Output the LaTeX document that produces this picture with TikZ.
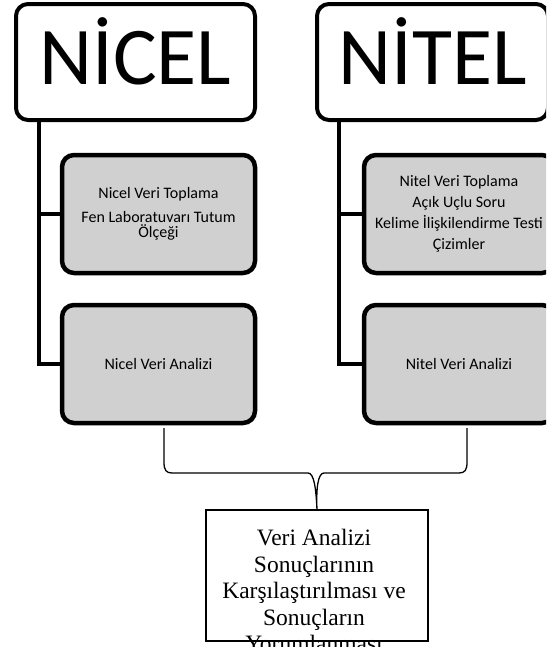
\documentclass[tikz,border=0pt]{standalone}
\usepackage{fontspec}
\setmainfont{Carlito}
\newfontfamily\resultfont{Liberation Serif}
\definecolor{boxgray}{gray}{0.816}

\begin{document}
\begin{tikzpicture}[x=1pt,y=-1pt,
  headbox/.style={draw, line width=4pt, rounded corners=12pt, fill=white,
    inner sep=0pt, outer sep=0pt, font=\fontsize{82}{82}\selectfont,
    text height=52pt, text depth=8pt},
  stepbox/.style={draw, line width=4.5pt, rounded corners=12pt, fill=boxgray,
    inner sep=0pt, outer sep=0pt, align=center, minimum height=118pt},
  trunk/.style={line width=4pt},
  brace/.style={line width=1.3pt},
  resultbox/.style={draw, line width=1.5pt, fill=white, inner sep=0pt, outer sep=0pt},
]
\clip (0,0) rectangle (546,653);

% column headings
\node[headbox, minimum width=239pt, minimum height=116pt] (nicel) at (135.5,62) {NİCEL};
\node[headbox, minimum width=231pt, minimum height=116pt] (nitel) at (432.5,62) {NİTEL};

% quantitative column
\node[stepbox, minimum width=193pt, font=\fontsize{16}{15.2}\selectfont] (ncol) at (158.5,214)
  {Nicel Veri Toplama\\[9pt]Fen Laboratuvarı Tutum\\Ölçeği};
\node[stepbox, minimum width=193pt, font=\fontsize{16}{16}\selectfont] (nana) at (158.5,364)
  {Nicel Veri Analizi};

% qualitative column
\node[stepbox, minimum width=190pt, font=\fontsize{16}{21}\selectfont] (tcol) at (459,214)
  {Nitel Veri Toplama\\Açık Uçlu Soru\\Kelime İlişkilendirme Testi\\Çizimler};
\node[stepbox, minimum width=190pt, font=\fontsize{16}{16}\selectfont] (tana) at (459,364)
  {Nitel Veri Analizi};

% trunks from the headings to their steps
\draw[trunk] ([xshift=23pt]nicel.south west) |- (ncol.west);
\draw[trunk] ([xshift=23pt]nicel.south west) |- (nana.west);
\draw[trunk] ([xshift=22pt]nitel.south west) |- (tcol.west);
\draw[trunk] ([xshift=22pt]nitel.south west) |- (tana.west);

% comparison box; its last line runs past the lower edge and is cut there
\node[resultbox, minimum width=222pt, minimum height=131pt] (result) at (317,575.5) {};
\begin{scope}
  \clip ([xshift=1pt]result.north west) rectangle ([yshift=-5.5pt]result.south east);
  \node[anchor=north, inner sep=0pt, align=center,
    font=\resultfont\fontsize{23.5}{26.5}\selectfont] (resulttext) at (314,529)
    {Veri Analizi\\Sonuçlarının\\Karşılaştırılması ve\\Sonuçların\\Yorumlanması};
\end{scope}
\draw[line width=2.2pt] (result.south west) -- (result.south east);

% brace gathering both analyses
\coordinate (bl) at (164,428);
\coordinate (br) at (467,428);
\draw[brace] (bl) -- (164,462) .. controls (164,470) and (166,473) .. (172,473)
  -- (308,473) .. controls (314,473) and (316,488) .. (result.north)
  .. controls (316,488) and (318,473) .. (324,473)
  -- (459,473) .. controls (465,473) and (467,470) .. (467,462) -- (br);
\end{tikzpicture}
\end{document}
